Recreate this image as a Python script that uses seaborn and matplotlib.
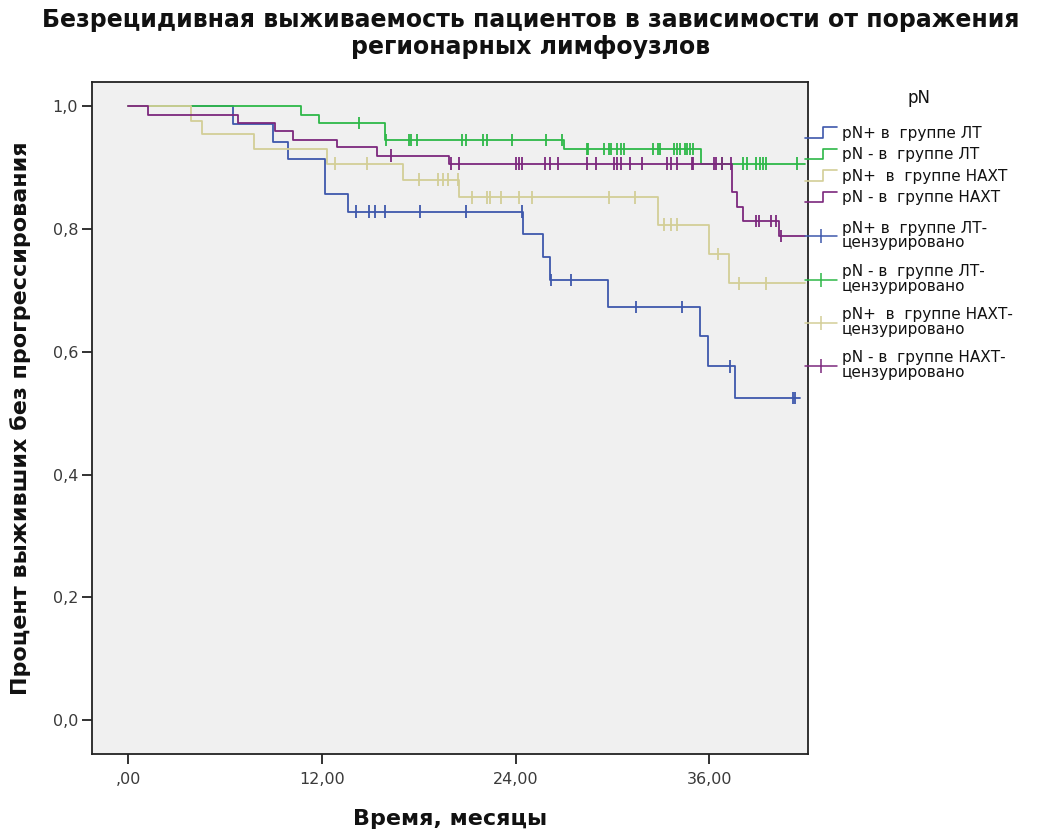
import numpy as np
import pandas as pd
import matplotlib
matplotlib.use("Agg")
import matplotlib.pyplot as plt
import seaborn as sns
from matplotlib.lines import Line2D
from matplotlib.legend_handler import HandlerBase

# --- groups and colours ---
groups = ["pN+ в  группе ЛТ", "pN - в  группе ЛТ", "pN+  в  группе НАХТ", "pN - в  группе НАХТ"]
censor_labels = ["pN+ в  группе ЛТ-\nцензурировано", "pN - в  группе ЛТ-\nцензурировано",
                 "pN+  в  группе НАХТ-\nцензурировано", "pN - в  группе НАХТ-\nцензурировано"]
colors = ["#3E58AC", "#2EB848", "#D3CE97", "#7C287D"]

# --- Kaplan-Meier estimates: event times (months), survival after each event, censored times ---
lt_pos_events = [6.5, 9.0, 9.9, 12.2, 13.65, 24.45, 25.7, 26.1, 29.7, 35.4, 35.9, 37.55]
lt_pos_surv = [0.971, 0.942, 0.913, 0.856, 0.828, 0.791, 0.754, 0.717, 0.673, 0.625, 0.576, 0.525]
lt_pos_censored = [14.1, 14.9, 15.3, 15.9, 18.05, 20.95, 24.4, 26.2, 27.4, 31.45, 34.3, 37.3, 41.2, 41.3]
lt_pos_end = 41.6

lt_neg_events = [10.7, 11.8, 15.9, 27.0, 35.5]
lt_neg_surv = [0.986, 0.972, 0.945, 0.930, 0.906]
lt_neg_censored = [14.3, 16.0, 17.4, 17.5, 17.9, 20.7, 20.9, 22.0, 22.2, 23.8, 25.9, 26.9,
                   28.4, 28.5, 29.45, 29.75, 29.9, 30.3, 30.5, 30.7, 32.5, 32.8, 32.96,
                   33.8, 34.0, 34.2, 34.5, 34.6, 34.8, 35.0, 36.8, 38.1, 38.3, 38.9,
                   39.1, 39.3, 39.5, 41.4]
lt_neg_end = 41.9

naxt_pos_events = [3.9, 4.6, 7.8, 12.3, 17.05, 20.5, 32.8, 36.0, 37.2]
naxt_pos_surv = [0.976, 0.955, 0.930, 0.906, 0.880, 0.851, 0.807, 0.759, 0.711]
naxt_pos_censored = [12.8, 14.8, 18.0, 19.2, 19.5, 19.8, 20.4, 21.3, 22.2, 22.4, 23.1,
                     24.2, 25.0, 29.8, 31.4, 33.2, 33.6, 34.0, 36.5, 37.8, 39.5]
naxt_pos_end = 41.9

naxt_neg_events = [1.26, 6.8, 9.1, 10.2, 12.95, 15.4, 19.9, 37.4, 37.7, 38.1, 40.3]
naxt_neg_surv = [0.986, 0.972, 0.959, 0.945, 0.933, 0.919, 0.906, 0.860, 0.836, 0.813, 0.788]
naxt_neg_censored = [16.3, 20.0, 20.5, 24.0, 24.2, 24.4, 25.8, 26.1, 26.6, 28.4, 29.0, 30.1,
                     30.3, 30.5, 31.1, 31.8, 33.4, 33.6, 34.0, 34.9, 35.0, 36.3, 36.4,
                     36.8, 37.35, 38.85, 39.06, 39.8, 40.1, 40.4]
naxt_neg_end = 41.9

x_ticks = [0, 12, 24, 36]
x_tick_labels = [",00", "12,00", "24,00", "36,00"]
y_ticks = [0.0, 0.2, 0.4, 0.6, 0.8, 1.0]
y_tick_labels = ["0,0", "0,2", "0,4", "0,6", "0,8", "1,0"]

series = [
    (lt_pos_events, lt_pos_surv, lt_pos_censored, lt_pos_end),
    (lt_neg_events, lt_neg_surv, lt_neg_censored, lt_neg_end),
    (naxt_pos_events, naxt_pos_surv, naxt_pos_censored, naxt_pos_end),
    (naxt_neg_events, naxt_neg_surv, naxt_neg_censored, naxt_neg_end),
]

# long-form tables: step vertices per group, and the survival level at each censored time
step_rows, cens_rows = [], []
for g, (ev, sv, cs, end) in zip(groups, series):
    t = [0.0] + ev + [end]
    s = [1.0] + sv + [sv[-1]]
    step_rows += [{"t": a, "s": b, "g": g} for a, b in zip(t, s)]
    levels = np.array([1.0] + sv)
    idx = np.searchsorted(np.array(ev), np.array(cs), side="right")
    cens_rows += [{"t": a, "s": b, "g": g} for a, b in zip(cs, levels[idx])]
steps = pd.DataFrame(step_rows)
cens = pd.DataFrame(cens_rows)

sns.set_theme(style="white")
plt.rcParams["font.family"] = ["DejaVu Sans"]
plt.rcParams["text.color"] = "#111111"
plt.rcParams["axes.labelcolor"] = "#111111"

fig = plt.figure(figsize=(10.46, 8.34), dpi=100)
ax = fig.add_axes([92 / 1046, 80 / 834, 716 / 1046, 672 / 834])
ax.set_facecolor("#F0F0F0")

palette = dict(zip(groups, colors))
sns.lineplot(data=steps, x="t", y="s", hue="g", hue_order=groups, palette=palette,
             drawstyle="steps-post", estimator=None, sort=False, legend=False,
             linewidth=1.3, ax=ax)
sns.scatterplot(data=cens, x="t", y="s", hue="g", hue_order=groups, palette=palette,
                marker="|", s=80, linewidth=1.3, legend=False, ax=ax, zorder=3)

ax.set_xlim(-2.23, 42.1)
ax.set_ylim(-0.055, 1.039)
ax.set_xticks(x_ticks)
ax.set_xticklabels(x_tick_labels)
ax.set_yticks(y_ticks)
ax.set_yticklabels(y_tick_labels)
ax.tick_params(axis="both", direction="out", length=7, width=1.3, color="#222222",
               labelsize=11.5, labelcolor="#3a3a3a", left=True, bottom=True)
ax.tick_params(axis="y", pad=3)
ax.tick_params(axis="x", pad=6)
for sp in ax.spines.values():
    sp.set_color("#222222")
    sp.set_linewidth(1.3)

ax.set_xlabel("Время, месяцы", fontsize=16, fontweight="bold")
ax.xaxis.set_label_coords(0.5, -0.082)
ax.set_ylabel("Процент выживших без прогрессирования", fontsize=16, fontweight="bold")
ax.yaxis.set_label_coords(-0.085, 0.5)

fig.text(0.507, 0.990, "Безрецидивная выживаемость пациентов в зависимости от поражения\nрегионарных лимфоузлов",
         ha="center", va="top", fontsize=17, fontweight="bold", linespacing=1.15)


class StepHandler(HandlerBase):
    """Legend key drawn as a small step, like a survival curve."""
    def create_artists(self, legend, orig_handle, xdescent, ydescent, width, height, fontsize, trans):
        x0, y0 = -xdescent, -ydescent
        xm = x0 + width * 0.55
        xs = [x0, xm, xm, x0 + width]
        ys = [y0, y0, y0 + height, y0 + height]
        line = Line2D(xs, ys, color=orig_handle.get_color(), linewidth=1.2)
        line.set_transform(trans)
        return [line]


step_handles = [Line2D([], [], color=c) for c in colors]
cens_handles = [Line2D([], [], color=c, marker="|", markersize=10, linewidth=1.1,
                       markeredgewidth=1.1) for c in colors]
hmap = {h: StepHandler() for h in step_handles}
common = dict(loc="upper left", bbox_transform=fig.transFigure, frameon=False,
              handlelength=2.1, handletextpad=0.3, fontsize=11, borderpad=0, borderaxespad=0)

leg_steps = ax.legend(step_handles, groups, bbox_to_anchor=(805 / 1046, 1 - 126 / 834),
                      handler_map=hmap, labelspacing=0.42, **common)
ax.add_artist(leg_steps)
leg_cens = ax.legend(cens_handles, censor_labels, bbox_to_anchor=(805 / 1046, 1 - 221 / 834),
                     labelspacing=0.9, **common)
for txt in leg_cens.get_texts():
    txt.set_linespacing(0.95)

fig.text(919 / 1046, 1 - 98 / 834, "pN", ha="center", va="center", fontsize=12)

fig.savefig("out.png", dpi=100, facecolor="white")
